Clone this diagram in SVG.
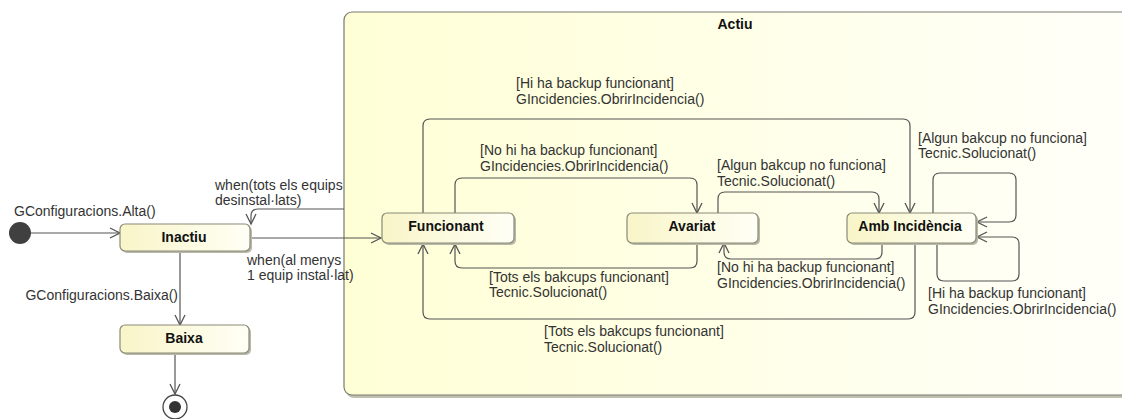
<svg xmlns="http://www.w3.org/2000/svg" width="1122" height="419" viewBox="0 0 1122 419">
<defs>
<linearGradient id="gNode" x1="0" y1="0" x2="1" y2="0">
<stop offset="0" stop-color="#f8f5c8"/>
<stop offset="1" stop-color="#fffff6"/>
</linearGradient>
<linearGradient id="gCont" x1="0" y1="0" x2="1" y2="0">
<stop offset="0" stop-color="#ffffd6"/>
<stop offset="1" stop-color="#fffffa"/>
</linearGradient>
<marker id="arr" markerWidth="14" markerHeight="14" refX="11" refY="6" orient="auto" markerUnits="userSpaceOnUse">
<path d="M1,1 L11,6 L1,11" fill="none" stroke="#555" stroke-width="1.3"/>
</marker>
</defs>
<style>
.t{font-family:"Liberation Sans",Arial,sans-serif;font-size:14px;fill:#333}
.b{font-family:"Liberation Sans",Arial,sans-serif;font-size:14px;font-weight:bold;fill:#111;text-anchor:middle}
.node{fill:url(#gNode);stroke:#8a8a78;stroke-width:1.2}
.sh{fill:#b8b8a8}
.c{fill:none;stroke:#555;stroke-width:1.2;marker-end:url(#arr)}
</style>
<rect width="1122" height="419" fill="#ffffff"/>
<g id="Actiu">
<rect x="346" y="15" width="800" height="383" rx="8" fill="#c0c0b0"/>
<rect x="344" y="12" width="800" height="383" rx="8" fill="url(#gCont)" stroke="#7a7a70" stroke-width="1.2"/>
<text class="b" x="735" y="29">Actiu</text>
</g>
<g id="connectors">
<path class="c" d="M31,233 H120"/>
<path class="c" d="M180,251 V325"/>
<path class="c" d="M175,353 V394"/>
<path class="c" d="M250,238 H381"/>
<path class="c" d="M344,209 H258 Q251,209 251,216 V224"/>
<path class="c" d="M423,213 V126 Q423,119 430,119 H903 Q910,119 910,126 V213"/>
<path class="c" d="M455,213 V185 Q455,178 462,178 H690 Q697,178 697,185 V213"/>
<path class="c" d="M718,213 V199 Q718,192 725,192 H872 Q879,192 879,199 V213"/>
<path class="c" d="M882,243 V252 Q882,259 875,259 H731 Q724,259 724,252 V243"/>
<path class="c" d="M697,243 V261 Q697,268 690,268 H462 Q455,268 455,261 V244"/>
<path class="c" d="M915,243 V312 Q915,319 908,319 H430 Q423,319 423,312 V244"/>
<path class="c" d="M933,213 V180 Q933,173 940,173 H1009 Q1016,173 1016,180 V215 Q1016,222 1009,222 H977"/>
<path class="c" d="M937,243 V274 Q937,281 944,281 H1012 Q1019,281 1019,274 V244 Q1019,237 1012,237 H977"/>
<text class="t" x="14" y="216">GConfiguracions.Alta()</text>
<text class="t" x="178" y="300" text-anchor="end">GConfiguracions.Baixa()</text>
<text class="t" x="215" y="190">when(tots els equips</text>
<text class="t" x="215" y="205">desinstal·lats)</text>
<text class="t" x="247" y="265">when(al menys</text>
<text class="t" x="247" y="280">1 equip instal·lat)</text>
<text class="t" x="516" y="88">[Hi ha backup funcionant]</text>
<text class="t" x="516" y="104">GIncidencies.ObrirIncidencia()</text>
<text class="t" x="480" y="155">[No hi ha backup funcionant]</text>
<text class="t" x="480" y="171">GIncidencies.ObrirIncidencia()</text>
<text class="t" x="717" y="170">[Algun bakcup no funciona]</text>
<text class="t" x="717" y="186">Tecnic.Solucionat()</text>
<text class="t" x="918" y="143">[Algun bakcup no funciona]</text>
<text class="t" x="918" y="158">Tecnic.Solucionat()</text>
<text class="t" x="717" y="272">[No hi ha backup funcionant]</text>
<text class="t" x="717" y="288">GIncidencies.ObrirIncidencia()</text>
<text class="t" x="489" y="282">[Tots els bakcups funcionant]</text>
<text class="t" x="489" y="297">Tecnic.Solucionat()</text>
<text class="t" x="544" y="336">[Tots els bakcups funcionant]</text>
<text class="t" x="544" y="352">Tecnic.Solucionat()</text>
<text class="t" x="928" y="298">[Hi ha backup funcionant]</text>
<text class="t" x="928" y="314">GIncidencies.ObrirIncidencia()</text>
</g>
<g id="initial">
<circle cx="20" cy="233" r="11" fill="#404040"/>
</g>
<g id="final">
<circle cx="175" cy="407" r="12" fill="#ffffff" stroke="#444" stroke-width="1.3"/>
<circle cx="175" cy="407" r="6" fill="#333"/>
</g>
<g id="Inactiu">
<rect class="sh" x="122" y="226" width="130" height="27" rx="5"/>
<rect class="node" x="120" y="224" width="130" height="27" rx="5"/>
<text class="b" x="184" y="242">Inactiu</text>
</g>
<g id="Baixa">
<rect class="sh" x="122" y="327" width="129" height="28" rx="5"/>
<rect class="node" x="120" y="325" width="129" height="28" rx="5"/>
<text class="b" x="184" y="343">Baixa</text>
</g>
<g id="Funcionant">
<rect class="sh" x="384" y="215" width="132" height="30" rx="5"/>
<rect class="node" x="382" y="213" width="132" height="30" rx="5"/>
<text class="b" x="446" y="231">Funcionant</text>
</g>
<g id="Avariat">
<rect class="sh" x="629" y="215" width="131" height="30" rx="5"/>
<rect class="node" x="627" y="213" width="131" height="30" rx="5"/>
<text class="b" x="692" y="231">Avariat</text>
</g>
<g id="AmbIncidencia">
<rect class="sh" x="849" y="215" width="129" height="30" rx="5"/>
<rect class="node" x="847" y="213" width="129" height="30" rx="5"/>
<text class="b" x="910" y="231">Amb Incidència</text>
</g>
</svg>
